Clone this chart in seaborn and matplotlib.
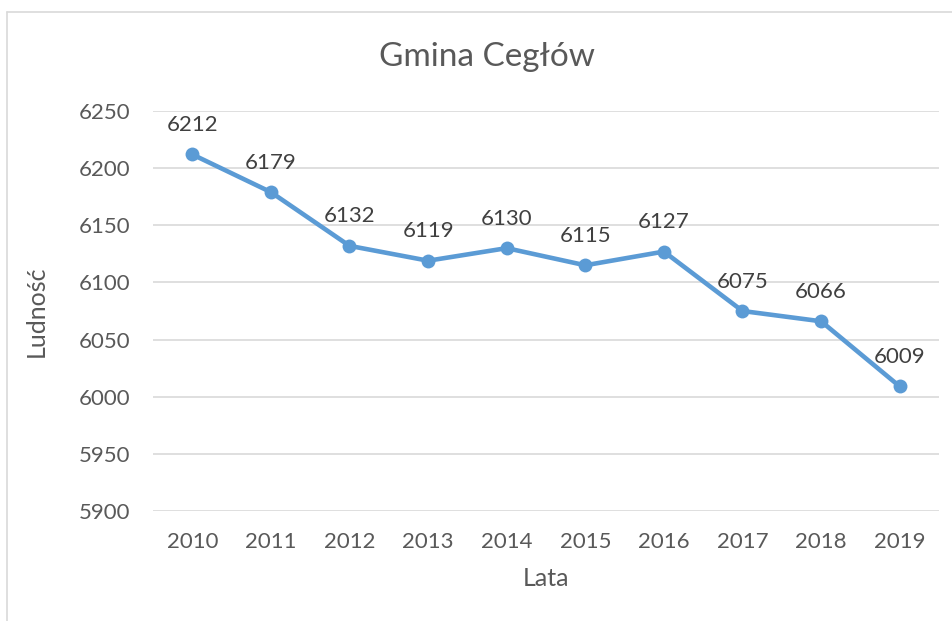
import matplotlib
matplotlib.use("Agg")
import matplotlib.pyplot as plt
import seaborn as sns
import pandas as pd
from matplotlib.lines import Line2D

years = ["2010", "2011", "2012", "2013", "2014", "2015", "2016", "2017", "2018", "2019"]
population = [6212, 6179, 6132, 6119, 6130, 6115, 6127, 6075, 6066, 6009]
yticks = [5900, 5950, 6000, 6050, 6100, 6150, 6200, 6250]
title = "Gmina Cegłów"
xlabel = "Lata"
ylabel = "Ludność"

sns.set_theme(style="white")
plt.rcParams['font.family'] = ['Lato', 'DejaVu Sans']

df = pd.DataFrame({"Lata": years, "Ludność": population})

fig = plt.figure(figsize=(9.53, 6.21), dpi=100)
ax = fig.add_axes([153/953, 1 - 511/621, (939 - 153)/953, (511 - 111)/621])

color = "#5B9BD5"
sns.lineplot(data=df, x="Lata", y="Ludność", ax=ax, color=color, linewidth=3.3,
             marker="o", markersize=10, markeredgewidth=0, sort=False)

ax.set_xlim(-0.5, len(years) - 0.5)
ax.set_ylim(yticks[0], yticks[-1])
ax.set_yticks(yticks)
ax.yaxis.grid(True, color="#D9D9D9", linewidth=1.2)
ax.xaxis.grid(False)
ax.set_axisbelow(True)
for s in ax.spines.values():
    s.set_visible(False)
ax.tick_params(axis="both", length=0, labelsize=16, colors="#595959")
ax.tick_params(axis="x", pad=15)
ax.tick_params(axis="y", pad=16.5)

for i, v in enumerate(population):
    ax.annotate(str(v), (i, v), xytext=(0, 14), textcoords="offset points",
                ha="center", va="bottom", fontsize=16, color="#404040")

ax.set_xlabel(xlabel, fontsize=18, color="#595959", labelpad=11)
ax.set_ylabel(ylabel, fontsize=18, color="#595959", labelpad=22)
fig.text(487.5/953, 1 - 57/621, title, ha="center", va="center", fontsize=24, color="#595959")

# chart border (partially visible frame)
fig.add_artist(Line2D([7/953, 1.0], [1 - 12/621, 1 - 12/621], transform=fig.transFigure,
                      color="#D9D9D9", linewidth=1.2))
fig.add_artist(Line2D([7/953, 7/953], [0, 1 - 12/621], transform=fig.transFigure,
                      color="#D9D9D9", linewidth=1.2))

fig.savefig("out.png", dpi=100, facecolor="white")
